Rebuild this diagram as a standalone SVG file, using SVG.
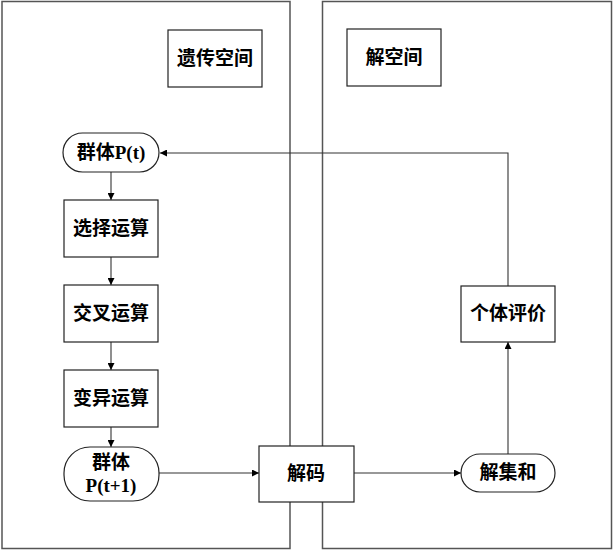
<svg xmlns="http://www.w3.org/2000/svg" width="613" height="551" viewBox="0 0 613 551">
<style>
.panel{fill:none;stroke:#555;stroke-width:1.5}
.box{fill:#fff;stroke:#222;stroke-width:1.2}
.lbl{font-family:"Liberation Serif","Noto Sans CJK SC",serif;font-weight:bold;font-size:19px;fill:#000;text-anchor:middle}
.edge{fill:none;stroke:#333;stroke-width:1.1}
</style>
<defs>
<marker id="arr" viewBox="0 0 10 10" refX="10" refY="5" markerWidth="8" markerHeight="7" markerUnits="userSpaceOnUse" orient="auto">
<path d="M0,0 L10,5 L0,10 Z" fill="#000"/>
</marker>
</defs>
<g id="panels">
<rect class="panel" x="2" y="1.5" width="288" height="547"/>
<rect class="panel" x="322.5" y="1.5" width="289" height="547"/>
</g>
<g id="connectors">
<line class="edge" x1="111" y1="172" x2="111" y2="200" marker-end="url(#arr)"/>
<line class="edge" x1="111" y1="257" x2="111" y2="285" marker-end="url(#arr)"/>
<line class="edge" x1="111" y1="342" x2="111" y2="370" marker-end="url(#arr)"/>
<line class="edge" x1="111" y1="427" x2="111" y2="447" marker-end="url(#arr)"/>
<line class="edge" x1="159" y1="473" x2="259" y2="473" marker-end="url(#arr)"/>
<line class="edge" x1="354" y1="473" x2="461" y2="473" marker-end="url(#arr)"/>
<line class="edge" x1="508" y1="454" x2="508" y2="342" marker-end="url(#arr)"/>
<polyline class="edge" points="508,286 508,153 160,153" marker-end="url(#arr)"/>
</g>
<g id="genetic-space">
<rect class="box" x="168" y="30" width="94" height="57"/>
<text class="lbl" x="215" y="65">遗传空间</text>
</g>
<g id="solution-space">
<rect class="box" x="347" y="29" width="94" height="57"/>
<text class="lbl" x="394" y="64">解空间</text>
</g>
<g id="pop-t">
<rect class="box" x="63" y="133" width="96" height="39" rx="19.5" ry="19.5"/>
<text class="lbl" x="111" y="159">群体P(t)</text>
</g>
<g id="select">
<rect class="box" x="64" y="200" width="94" height="57"/>
<text class="lbl" x="111" y="235">选择运算</text>
</g>
<g id="crossover">
<rect class="box" x="64" y="285" width="94" height="57"/>
<text class="lbl" x="111" y="320">交叉运算</text>
</g>
<g id="mutation">
<rect class="box" x="64" y="370" width="94" height="57"/>
<text class="lbl" x="111" y="405">变异运算</text>
</g>
<g id="pop-t1">
<rect class="box" x="64" y="447" width="95" height="54" rx="26" ry="26"/>
<text class="lbl" x="111" y="469">群体</text>
<text class="lbl" x="111" y="492">P(t+1)</text>
</g>
<g id="decode">
<rect class="box" x="259" y="446" width="95" height="56"/>
<text class="lbl" x="306" y="480">解码</text>
</g>
<g id="solution-set">
<rect class="box" x="461" y="454" width="94" height="38" rx="19" ry="19"/>
<text class="lbl" x="508" y="479">解集和</text>
</g>
<g id="evaluation">
<rect class="box" x="461" y="286" width="94" height="56"/>
<text class="lbl" x="508" y="320">个体评价</text>
</g>
</svg>
